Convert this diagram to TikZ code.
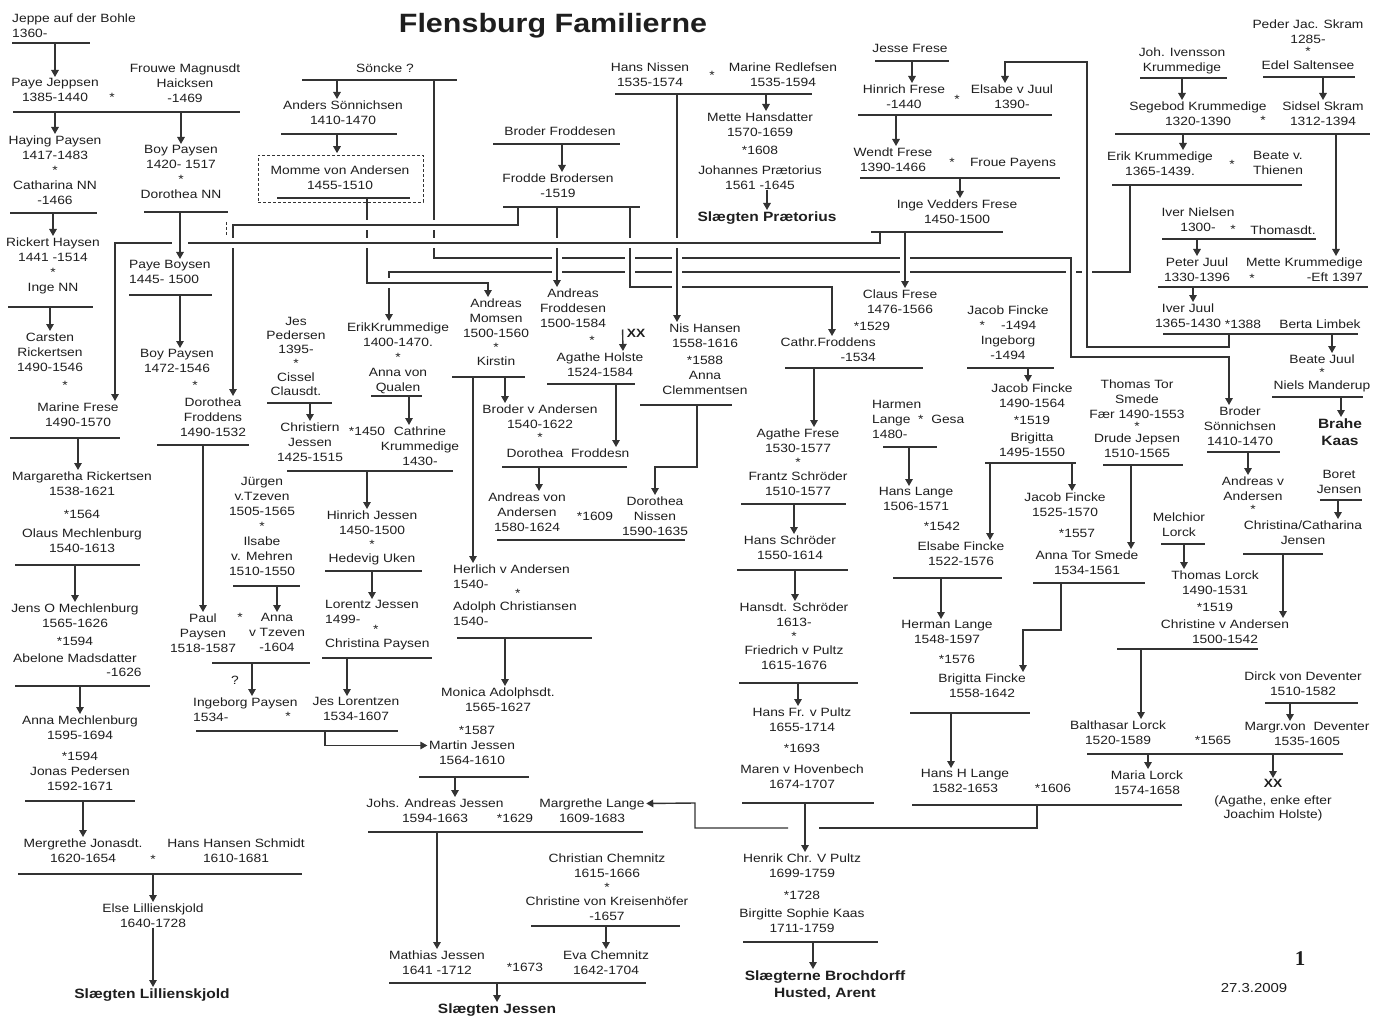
\documentclass[tikz,border=0pt]{standalone}
\usepackage{fontspec}
\setmainfont{Liberation Sans}[FakeStretch=1.15]
\newfontfamily\pagefont{Liberation Serif}
\usetikzlibrary{arrows.meta}
\pgfdeclarelayer{front}
\pgfsetlayers{main,front}
\definecolor{ink}{HTML}{1E1E1E}
\definecolor{ln}{HTML}{333333}

\begin{document}
\begin{tikzpicture}[x=1pt, y=-1pt,
    p/.style={anchor=north, yshift=4.5pt, inner sep=0pt, align=center, text=ink, font=\fontsize{12}{15}\selectfont},
    pl/.style={p, anchor=north west, align=left},
    pr/.style={p, anchor=north east, align=right},
    big/.style={p, font=\fontsize{13.5}{17}\selectfont\bfseries},
    bar/.style={draw=ln, line width=1.4pt},
    arr/.style={bar, -{Triangle[width=7.5pt,length=7pt]}, shorten >=1.5pt},
    link/.style={bar, preaction={draw=white, line width=10pt}},
    linkarr/.style={arr, preaction={draw=white, line width=10pt}}]
\useasboundingbox (0,0) rectangle (1383,1016);

% title
\node[anchor=base, inner sep=0pt, text=ink, font=\fontsize{26.5}{30}\selectfont\bfseries] (title) at (553,33) {Flensburg Familierne};

% Paysen, left column
\node[pl] (jeppe) at (12,18) {Jeppe auf der Bohle\\1360-};
\node[p] (paye_jeppsen) at (55,83) {Paye Jeppsen\\1385-1440};
\node[p] (st_1) at (112,98) {*};
\node[p] (frouwe) at (185,68) {Frouwe Magnusdt\\Haicksen\\-1469};
\node[p] (haying) at (55,140) {Haying Paysen\\1417-1483\\*\\Catharina NN\\-1466};
\node[p] (rickert) at (53,242) {Rickert Haysen\\1441 -1514\\*\\Inge NN};
\node[p] (carsten) at (50,337) {Carsten\\Rickertsen\\1490-1546};
\node[p] (st_2) at (65,386) {*};
\node[p] (marine) at (78,407) {Marine Frese\\1490-1570};
\node[p] (margaretha) at (82,476) {Margaretha Rickertsen\\1538-1621\\[8pt]*1564\\[4pt]Olaus Mechlenburg\\1540-1613};
\node[p] (jens) at (75,608) {Jens O Mechlenburg\\1565-1626\\[3pt]*1594\\[2pt]Abelone Madsdatter};
\node[p] (jens_d) at (124,672) {-1626};
\node[p] (anna_m) at (80,720) {Anna Mechlenburg\\1595-1694\\[6pt]*1594\\Jonas Pedersen\\1592-1671};
\node[p] (mergrethe) at (83,843) {Mergrethe Jonasdt.\\1620-1654};
\node[p] (st_3) at (153,860) {*};
\node[p] (hans_schmidt) at (236,843) {Hans Hansen Schmidt\\1610-1681};
\node[p] (else_l) at (153,908) {Else Lillienskjold\\1640-1728};
\node[big] (sl_lillie) at (152,993) {Slægten Lillienskjold};

% Paysen, second column
\node[p] (boy_1) at (181,150) {Boy Paysen\\1420- 1517\\*\\Dorothea NN};
\node[pl] (paye_boysen) at (129,265) {Paye Boysen\\1445- 1500};
\node[p] (boy_2) at (177,354) {Boy Paysen\\1472-1546};
\node[p] (st_4) at (195,386) {*};
\node[p] (dorothea_f) at (213,402) {Dorothea\\Froddens\\1490-1532};
\node[p] (paul) at (203,618) {Paul\\Paysen\\1518-1587};
\node[p] (st_5) at (240,618) {*};
\node[p] (anna_tz) at (277,618) {Anna\\v Tzeven\\-1604};
\node[p] (qm) at (235,680) {?};
\node[pl] (ingeborg_p) at (193,702) {Ingeborg Paysen\\1534-};
\node[p] (st_6) at (288,717) {*};
\node[p] (jes_lor) at (356,702) {Jes Lorentzen\\1534-1607};
\node[p] (jurgen) at (262,482) {Jürgen\\v.Tzeven\\1505-1565\\*\\Ilsabe\\v. Mehren\\1510-1550};

% Jessen
\node[p] (jes_ped) at (296,322) {Jes\\[-1pt]Pedersen\\[-1pt]1395-\\[-1pt]*\\[-1pt]Cissel\\[-1pt]Clausdt.};
\node[p] (christiern) at (310,427) {Christiern\\Jessen\\1425-1515};
\node[p] (st_1450) at (367,431) {*1450};
\node[p] (cathrine) at (420,431) {Cathrine\\Krummedige\\1430-};
\node[p] (hinrich_j) at (372,515) {Hinrich Jessen\\1450-1500\\[-1pt]*\\[-1pt]Hedevig Uken};
\node[pl] (lorentz) at (325,605) {Lorentz Jessen\\1499-\\[-5pt]\hspace*{48pt}*\\[-1pt]Christina Paysen};
\node[p] (erik_k2) at (398,327) {ErikKrummedige\\1400-1470.\\*\\Anna von\\Qualen};
\node[p] (andreas_m) at (496,303) {Andreas\\Momsen\\1500-1560\\[-1pt]*\\[-1pt]Kirstin};
\node[p] (broder_va) at (540,409) {Broder v Andersen\\1540-1622\\[-2pt]*};
\node[p] (dorothea_fr) at (568,453) {Dorothea\ \ Froddesn};
\node[p] (andreas_va) at (527,497) {Andreas von\\Andersen\\1580-1624};
\node[p] (st_1609) at (595,516) {*1609};
\node[p] (dorothea_n) at (655,501) {Dorothea\\Nissen\\1590-1635};
\node[p] (andreas_f) at (573,293) {Andreas\\Froddesen\\1500-1584};
\node[p] (st_7) at (592,341) {*};
\node[p] (agathe_h) at (600,357) {Agathe Holste\\1524-1584};
\node[p, font=\fontsize{12}{15}\selectfont\bfseries] (xx_1) at (636,334) {XX};
\node[pl] (herlich) at (453,569) {Herlich v Andersen\\1540-\\[-6pt]\hspace*{62pt}*\\[-2pt]Adolph Christiansen\\1540-};
\node[p] (monica) at (498,692) {Monica Adolphsdt.\\1565-1627};
\node[p] (st_1587) at (477,730) {*1587};
\node[p] (martin) at (472,745) {Martin Jessen\\1564-1610};
\node[p] (johs) at (435,803) {Johs. Andreas Jessen\\1594-1663};
\node[p] (st_1629) at (515,818) {*1629};
\node[p] (margrethe_l) at (592,803) {Margrethe Lange\\1609-1683};
\node[p] (chemnitz) at (607,858) {Christian Chemnitz\\1615-1666\\[-1pt]*\\[-1pt]Christine von Kreisenhöfer\\-1657};
\node[p] (mathias) at (437,955) {Mathias Jessen\\1641 -1712};
\node[p] (st_1673) at (525,967) {*1673};
\node[p] (eva) at (606,955) {Eva Chemnitz\\1642-1704};
\node[big] (sl_jessen) at (497,1008) {Slægten Jessen};

% Sönnichsen, Froddesen, Nissen
\node[p] (soncke) at (385,68) {Söncke ?};
\node[p] (anders) at (343,105) {Anders Sönnichsen\\1410-1470};
\node[p] (momme) at (340,170) {Momme von Andersen\\1455-1510};
\node[p] (broder_f) at (560,131) {Broder Froddesen};
\node[p] (frodde) at (558,178) {Frodde Brodersen\\-1519};
\node[p] (hans_n) at (650,67) {Hans Nissen\\1535-1574};
\node[p] (st_8) at (712,76) {*};
\node[p] (marine_r) at (783,67) {Marine Redlefsen\\1535-1594};
\node[p] (mette_h) at (760,117) {Mette Hansdatter\\1570-1659\\[3pt]*1608\\[5pt]Johannes Prætorius\\1561 -1645};
\node[big] (sl_praet) at (767,216) {Slægten Prætorius};
\node[p] (nis) at (705,328) {Nis Hansen\\1558-1616\\[2pt]*1588\\Anna\\Clemmentsen};

% Frese, Schröder, Pultz
\node[p] (jesse) at (910,49) {Jesse Frese};
\node[p] (hinrich_f) at (904,89) {Hinrich Frese\\-1440};
\node[p] (st_9) at (957,100) {*};
\node[p] (elsabe_j) at (1012,89) {Elsabe v Juul\\1390-};
\node[p] (wendt) at (893,152) {Wendt Frese\\1390-1466};
\node[p] (st_10) at (952,163) {*};
\node[p] (froue) at (1013,163) {Froue Payens};
\node[p] (inge_v) at (957,204) {Inge Vedders Frese\\1450-1500};
\node[p] (claus) at (900,294) {Claus Frese\\1476-1566};
\node[p] (st_1529) at (872,326) {*1529};
\node[pr] (cathr) at (876,342) {Cathr.Froddens\\-1534};
\node[p] (agathe_f) at (798,433) {Agathe Frese\\1530-1577\\[-1pt]*\\[-1pt]Frantz Schröder\\1510-1577};
\node[p] (hans_s) at (790,540) {Hans Schröder\\1550-1614};
\node[p] (hansdt) at (794,607) {Hansdt. Schröder\\1613-\\[-1pt]*\\[-1pt]Friedrich v Pultz\\1615-1676};
\node[p] (hans_fr) at (802,712) {Hans Fr. v Pultz\\1655-1714\\[6pt]*1693\\[6pt]Maren v Hovenbech\\1674-1707};
\node[p] (henrik) at (802,858) {Henrik Chr. V Pultz\\1699-1759\\[7pt]*1728\\[3pt]Birgitte Sophie Kaas\\1711-1759};
\node[big] (sl_broch) at (825,975) {Slægterne Brochdorff\\Husted, Arent};

% Fincke, Lange
\node[p] (jacob_f1) at (1008,310) {Jacob Fincke\\*\hspace*{16pt}-1494\\Ingeborg\\-1494};
\node[p] (jacob_f2) at (1032,388) {Jacob Fincke\\1490-1564\\[2pt]*1519\\[2pt]Brigitta\\1495-1550};
\node[pl] (harmen) at (872,405) {Harmen\\Lange\ \ *\ \ Gesa\\1480-};
\node[p] (hans_l) at (916,492) {Hans Lange\\1506-1571};
\node[p] (st_1542) at (942,526) {*1542};
\node[p] (elsabe_f) at (961,546) {Elsabe Fincke\\1522-1576};
\node[p] (herman_l) at (947,625) {Herman Lange\\1548-1597};
\node[p] (st_1576) at (957,659) {*1576};
\node[p] (brigitta_f) at (982,678) {Brigitta Fincke\\1558-1642};
\node[p] (hans_hl) at (965,774) {Hans H Lange\\1582-1653};
\node[p] (st_1606) at (1053,788) {*1606};
\node[p] (jacob_f3) at (1065,497) {Jacob Fincke\\1525-1570};
\node[p] (st_1557) at (1077,534) {*1557};
\node[p] (anna_tor) at (1087,555) {Anna Tor Smede\\1534-1561};
\node[p] (thomas_tor) at (1137,384) {Thomas Tor\\Smede\\Fær 1490-1553\\[-3pt]*\\[-3pt]Drude Jepsen\\1510-1565};

% Lorck, Deventer
\node[p] (melchior) at (1179,517) {Melchior\\Lorck};
\node[p] (thomas_l) at (1215,575) {Thomas Lorck\\1490-1531\\[2pt]*1519};
\node[p] (christine_va) at (1225,624) {Christine v Andersen\\1500-1542};
\node[p] (balthasar) at (1118,725) {Balthasar Lorck\\1520-1589};
\node[p] (st_1565) at (1213,740) {*1565};
\node[p] (margr) at (1307,727) {Margr.von\ \ Deventer\\1535-1605};
\node[p] (dirck) at (1303,676) {Dirck von Deventer\\1510-1582};
\node[p] (maria_l) at (1147,775) {Maria Lorck\\1574-1658};
\node[p, font=\fontsize{12}{15}\selectfont\bfseries] (xx_2) at (1273,784) {XX};
\node[p] (xx_note) at (1273,800) {(Agathe, enke efter\\[-1pt]Joachim Holste)};
\node[anchor=base, inner sep=0pt, text=ink, font=\pagefont\bfseries\fontsize{21}{24}\selectfont] (page_no) at (1300,965) {1};
\node[p, font=\fontsize{13}{15}\selectfont] (date) at (1254,988) {27.3.2009};

% Sönnichsen, Juul, Krummedige
\node[p] (broder_s) at (1240,411) {Broder\\Sönnichsen\\1410-1470};
\node[p] (andreas_v) at (1253,481) {Andreas v\\Andersen\\[-2pt]*};
\node[p] (christina_c) at (1303,525) {Christina/Catharina\\Jensen};
\node[p] (boret) at (1339,475) {Boret\\Jensen};
\node[p] (beate_j) at (1322,359) {Beate Juul\\[-2pt]*\\[-2pt]Niels Manderup};
\node[big] (brahe) at (1340,423) {Brahe\\Kaas};
\node[p] (peder) at (1308,24) {Peder Jac. Skram\\1285-\\[-3pt]*\\[-1pt]Edel Saltensee};
\node[p] (joh) at (1182,52) {Joh. Ivensson\\Krummedige};
\node[p] (segebod) at (1198,106) {Segebod Krummedige\\1320-1390};
\node[p] (st_11) at (1263,121) {*};
\node[p] (sidsel) at (1323,106) {Sidsel Skram\\1312-1394};
\node[p] (erik_k1) at (1160,156) {Erik Krummedige\\1365-1439.};
\node[p] (st_12) at (1232,165) {*};
\node[p] (beate_v) at (1278,156) {Beate v.\\Thienen};
\node[p] (iver_n) at (1198,212) {Iver Nielsen\\1300-};
\node[p] (st_13) at (1233,230) {*};
\node[p] (thomasdt) at (1283,230) {Thomasdt.};
\node[p] (peter_j) at (1197,262) {Peter Juul\\1330-1396};
\node[p] (st_14) at (1252,279) {*};
\node[pr] (mette_k) at (1363,262) {Mette Krummedige\\-Eft 1397};
\node[p] (iver_j) at (1188,308) {Iver Juul\\1365-1430};
\node[p] (st_1388) at (1243,324) {*1388};
\node[p] (berta) at (1320,324) {Berta Limbek};

% marriage bars (kept in front of the long lines)
\begin{pgfonlayer}{front}
\draw[bar] (12,43) coordinate (f1) -- (90,43);
\draw[bar] (13,112) coordinate (f2) -- (240,112);
\draw[bar] (10,213) coordinate (f3) -- (97,213);
\draw[bar] (8,307) coordinate (f4) -- (93,307);
\draw[bar] (10,438) coordinate (f5) -- (120,438);
\draw[bar] (15,565) coordinate (f6) -- (140,565);
\draw[bar] (15,686) coordinate (f7) -- (150,686);
\draw[bar] (25,801) coordinate (f8) -- (135,801);
\draw[bar] (18,874) coordinate (f9) -- (302,874);
\draw[bar] (144,212) coordinate (f10) -- (228,212);
\draw[bar] (129,295) coordinate (f11) -- (212,295);
\draw[bar] (157,445) coordinate (f12) -- (249,445);
\draw[bar] (212,663) coordinate (f13) -- (310,663);
\draw[bar] (196,731) coordinate (f14) -- (398,731);
\draw[bar] (233,586) coordinate (f15) -- (300,586);
\draw[bar] (267,403) coordinate (f16) -- (332,403);
\draw[bar] (287,471) coordinate (f17) -- (453,471);
\draw[bar] (325,571) coordinate (f18) -- (422,571);
\draw[bar] (322,658) coordinate (f19) -- (432,658);
\draw[bar] (371,396) coordinate (f20) -- (422,396);
\draw[bar] (452,377) coordinate (f21) -- (525,377);
\draw[bar] (502,467) coordinate (f22) -- (627,467);
\draw[bar] (497,540) coordinate (f23) -- (685,540);
\draw[bar] (547,384) coordinate (f24) -- (635,384);
\draw[bar] (640,405) coordinate (f25) -- (732,405);
\draw[bar] (457,638) coordinate (f26) -- (592,638);
\draw[bar] (419,777) coordinate (f27) -- (529,777);
\draw[bar] (368,832) coordinate (f28) -- (643,832);
\draw[bar] (531,926) coordinate (f29) -- (680,926);
\draw[bar] (389,983) coordinate (f30) -- (646,983);
\draw[bar] (302,80) coordinate (f31) -- (457,80);
\draw[bar] (281,134) coordinate (f32) -- (397,134);
\draw[bar] (277,198) coordinate (f33) -- (410,198);
\draw[bar] (493,144) coordinate (f34) -- (620,144);
\draw[bar] (503,207) coordinate (f35) -- (640,207);
\draw[bar] (615,94) coordinate (f36) -- (812,94);
\draw[bar] (875,61) coordinate (f37) -- (949,61);
\draw[bar] (858,115) coordinate (f38) -- (1052,115);
\draw[bar] (860,178) coordinate (f39) -- (1060,178);
\draw[bar] (871,232) coordinate (f40) -- (1003,232);
\draw[bar] (785,368) coordinate (f41) -- (923,368);
\draw[bar] (741,504) coordinate (f42) -- (846,504);
\draw[bar] (737,570) coordinate (f43) -- (848,570);
\draw[bar] (739,683) coordinate (f44) -- (858,683);
\draw[bar] (742,803) coordinate (f45) -- (874,803);
\draw[bar] (743,942) coordinate (f46) -- (878,942);
\draw[bar] (967,368) coordinate (f47) -- (1054,368);
\draw[bar] (985,463) coordinate (f48) -- (1076,463);
\draw[bar] (883,447) coordinate (f49) -- (937,447);
\draw[bar] (893,578) coordinate (f50) -- (1002,578);
\draw[bar] (910,713) coordinate (f51) -- (1030,713);
\draw[bar] (912,805) coordinate (f52) -- (1182,805);
\draw[bar] (1033,583) coordinate (f53) -- (1145,583);
\draw[bar] (1103,465) coordinate (f54) -- (1183,465);
\draw[bar] (1161,544) coordinate (f55) -- (1205,544);
\draw[bar] (1117,649) coordinate (f56) -- (1258,649);
\draw[bar] (1265,703) coordinate (f57) -- (1358,703);
\draw[bar] (1087,754) coordinate (f58) -- (1343,754);
\draw[bar] (1207,452) coordinate (f59) -- (1280,452);
\draw[bar] (1320,500) coordinate (f60) -- (1362,500);
\draw[bar] (1243,554) coordinate (f61) -- (1323,554);
\draw[bar] (1272,397) coordinate (f62) -- (1363,397);
\draw[bar] (1263,77) coordinate (f63) -- (1355,77);
\draw[bar] (1140,78) coordinate (f64) -- (1227,78);
\draw[bar] (1115,134) coordinate (f65) -- (1370,134);
\draw[bar] (1112,185) coordinate (f66) -- (1302,185);
\draw[bar] (1162,239) coordinate (f67) -- (1316,239);
\draw[bar] (1158,287) coordinate (f68) -- (1368,287);
\draw[bar] (1163,334) coordinate (f69) -- (1358,334);
\end{pgfonlayer}

% long lines, back to front
\draw[linkarr] (f66 -| 1130,0) |- (389,272) -- (erik_k2.north -| 389,0);
\draw[linkarr] (f31 -| 434,0) |- (1071,258) |- (1229,357) -- (broder_s.north -| 1229,0);
\draw[linkarr] (f69 -| 1229,0) |- (1087,347) |- (1005,62) -- (elsabe_j.north -| 1005,0);
\draw[linkarr] (f33 -| 367,0) |- (488,283) -- (andreas_m.north -| 488,0);
\draw[linkarr] (f35 -| 557,0) -- (andreas_f.north -| 557,0);
\draw[linkarr] (f35 -| 630,0) |- (832,287) -- (cathr.north -| 832,0);
\draw[linkarr] (f36 -| 677,0) -- (nis.north -| 677,0);
\draw[linkarr] (f40 -| 905,0) -- (claus.north -| 905,0);
\draw[linkarr] (f35 -| 518,0) |- (233,225) -- (dorothea_f.north -| 233,0);
\draw[linkarr] (f40 -| 880,0) |- (115,243) -- (marine.north -| 115,0);
\draw[arr, preaction={draw=white, line width=16pt}] (f10 -| 180,0) -- (paye_boysen.north -| 180,0);
\draw[ln, line width=1pt, dash pattern=on 3pt off 2pt] (226,222) -- (226,236);

% Momme box
\node[draw=ln, densely dashed, line width=0.6pt, minimum width=165pt, minimum height=47pt, inner sep=0pt] (momme_box) at (340.5,178.5) {};

% children
\draw[arr] (f1 -| paye_jeppsen.north) -- (paye_jeppsen.north);
\draw[arr] (f2 -| haying.north) -- (haying.north);
\draw[arr] (f2 -| boy_1.north) -- (boy_1.north);
\draw[arr] (f3 -| rickert.north) -- (rickert.north);
\draw[arr] (f4 -| carsten.north) -- (carsten.north);
\draw[arr] (f5 -| 78,0) -- (margaretha.north -| 78,0);
\draw[arr] (f6 -| jens.north) -- (jens.north);
\draw[arr] (f7 -| anna_m.north) -- (anna_m.north);
\draw[arr] (f8 -| mergrethe.north) -- (mergrethe.north);
\draw[arr] (f9 -| else_l.north) -- (else_l.north);
\draw[arr] (else_l.south) -- (sl_lillie.north -| else_l.south);
\draw[arr] (f11 -| 180,0) -- (boy_2.north -| 180,0);
\draw[arr] (f12 -| paul.north) -- (paul.north);
\draw[arr] (f13 -| 252,0) -- (ingeborg_p.north -| 252,0);
\draw[arr] (f14 -| 325,0) |- ([yshift=-5pt]martin.north west);
\draw[arr] (f15 -| anna_tz.north) -- (anna_tz.north);
\draw[arr] (f16 -| christiern.north) -- (christiern.north);
\draw[arr] (f17 -| 367,0) -- (hinrich_j.north -| 367,0);
\draw[arr] (f18 -| 372,0) -- (lorentz.north -| 372,0);
\draw[arr] (f19 -| 347,0) -- (jes_lor.north -| 347,0);
\draw[arr] (f20 -| 409,0) -- (cathrine.north -| 409,0);
\draw[arr] (f21 -| 505,0) -- (broder_va.north -| 505,0);
\draw[arr] (f21 -| 473,0) -- (herlich.north -| 473,0);
\draw[arr] (f22 -| 539,0) -- (andreas_va.north -| 539,0);
\draw[arr] (f24 -| 616,0) -- (dorothea_fr.north -| 616,0);
\draw[arr] (f25 -| 697,0) |- (655,467) -- (dorothea_n.north);
\draw[arr] ([xshift=-4pt]xx_1.north west) -- (agathe_h.north -| 623,0);
\draw[arr] (f26 -| 505,0) -- (monica.north -| 505,0);
\draw[arr] (f27 -| 455,0) -- (johs.north -| 455,0);
\draw[arr] (f28 -| mathias.north) -- (mathias.north);
\draw[arr] (f29 -| eva.north) -- (eva.north);
\draw[arr] (f30 -| sl_jessen.north) -- (sl_jessen.north);
\draw[arr] (f31 -| 337,0) -- (anders.north -| 337,0);
\draw[arr] (f32 -| 337,0) -- (momme_box.north -| 337,0);
\draw[arr] (f34 -| 562,0) -- (frodde.north -| 562,0);
\draw[arr] (f36 -| 766,0) -- (mette_h.north -| 766,0);
\draw[arr] (mette_h.south -| 767,0) -- (sl_praet.north -| 767,0);
\draw[arr] (f37 -| 912,0) -- (hinrich_f.north -| 912,0);
\draw[arr] (f38 -| 896,0) -- (wendt.north -| 896,0);
\draw[arr] (f39 -| 960,0) -- (inge_v.north -| 960,0);
\draw[arr] (f41 -| 814,0) -- (agathe_f.north -| 814,0);
\draw[arr] (f42 -| 794,0) -- (hans_s.north -| 794,0);
\draw[arr] (f43 -| 795,0) -- (hansdt.north -| 795,0);
\draw[arr] (f44 -| 798,0) -- (hans_fr.north -| 798,0);
\draw[arr] (f45 -| 805,0) -- (henrik.north -| 805,0);
\draw[arr] (f46 -| 813,0) -- (sl_broch.north -| 813,0);
\draw[arr] (f47 -| 1028,0) -- (jacob_f2.north -| 1028,0);
\draw[arr] (f48 -| 1072,0) -- (jacob_f3.north -| 1072,0);
\draw[arr] (f48 -| 990,0) -- (elsabe_f.north -| 990,0);
\draw[arr] (f49 -| 909,0) -- (hans_l.north -| 909,0);
\draw[arr] (f50 -| 941,0) -- (herman_l.north -| 941,0);
\draw[arr] (f51 -| 951,0) -- (hans_hl.north -| 951,0);
\coordinate (gap_r) at (819,828);
\coordinate (gap_l) at (788,828);
\draw[bar] (f52 -| 1037,0) |- (gap_r);
\draw[arr] (gap_l) -| (695,803) -- ([yshift=-5pt]margrethe_l.north east);
\draw[arr] (f53 -| 1061,0) |- (1023,630) -- (brigitta_f.north -| 1023,0);
\draw[arr] (f54 -| 1131,0) -- (anna_tor.north -| 1131,0);
\draw[arr] (f55 -| 1184,0) -- (thomas_l.north -| 1184,0);
\draw[arr] (f56 -| 1141,0) -- (balthasar.north -| 1141,0);
\draw[arr] (f57 -| 1290,0) -- (margr.north -| 1290,0);
\draw[arr] (f58 -| 1148,0) -- (maria_l.north -| 1148,0);
\draw[arr] (f58 -| 1273,0) -- (xx_2.north -| 1273,0);
\draw[arr] (f59 -| 1248,0) -- (andreas_v.north -| 1248,0);
\draw[arr] (f60 -| 1338,0) -- (christina_c.north -| 1338,0);
\draw[arr] (f61 -| 1283,0) -- (christine_va.north -| 1283,0);
\draw[arr] (f62 -| 1341,0) -- (brahe.north -| 1341,0);
\draw[arr] (f63 -| 1323,0) -- (sidsel.north -| 1323,0);
\draw[arr] (f64 -| 1182,0) -- (segebod.north -| 1182,0);
\draw[arr] (f65 -| 1183,0) -- (erik_k1.north -| 1183,0);
\draw[arr] (f65 -| 1336,0) -- (mette_k.north -| 1336,0);
\draw[arr] (f67 -| 1197,0) -- (peter_j.north -| 1197,0);
\draw[arr] (f68 -| 1193,0) -- (iver_j.north -| 1193,0);
\draw[arr] (f69 -| 1332,0) -- (beate_j.north -| 1332,0);
\end{tikzpicture}
\end{document}
